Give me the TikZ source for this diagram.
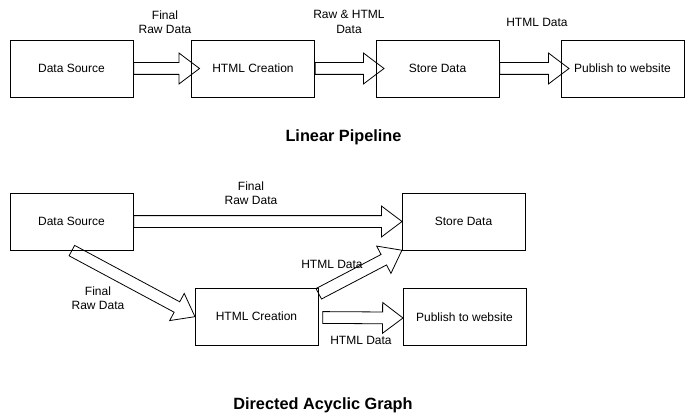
\documentclass[tikz,border=0pt]{standalone}
\usepackage{fontspec}
\setmainfont{Liberation Sans}
\usepackage{tikz}
\usetikzlibrary{shapes,arrows,calc}
\tikzstyle{block} = [rectangle, draw, line width=0.8pt, minimum width=123pt, minimum height=57pt, font=\fontsize{12}{14.4}\selectfont]
\tikzstyle{fat} = [single arrow, draw, line width=0.8pt, inner sep=5.5pt, minimum width=0pt, single arrow head extend=9.5pt, single arrow tip angle=74, anchor=tail]
\tikzstyle{lbl} = [align=center, font=\fontsize{12}{14.4}\selectfont]
\tikzstyle{title} = [font=\fontsize{16.3}{19}\selectfont\bfseries]
% hollow arrow from one point to another
\newcommand{\fatarrow}[2]{\path let \p1=($(#2)-(#1)$), \n1={veclen(\x1,\y1)}, \n2={atan2(\y1,\x1)} in node[fat, minimum height=\n1, rotate=\n2] at (#1) {};}

\begin{document}
\begin{tikzpicture}[x=1pt, y=-1pt]
      \useasboundingbox (0,0) rectangle (690,417);
      % linear pipeline
      \node [block] at (71.5, 68.5) (src) {Data Source};
      \node [block] at (253, 68.5) (html) {HTML Creation};
      \node [block] at (437.5, 68.5) (store) {Store Data};
      \node [block] at (622.5, 68.5) (pub) {Publish to website};
      \coordinate (t1) at ($(html.west)+(8,0)$);
      \coordinate (t2) at ($(store.west)+(8,0)$);
      \coordinate (t3) at ($(pub.west)+(8,0)$);
      \fatarrow{src.east}{t1}
      \fatarrow{html.east}{t2}
      \fatarrow{store.east}{t3}
      \node [lbl] at (165, 22) (l1) {Final\\Raw Data};
      \node [lbl] at (349, 22) (l2) {Raw \& HTML\\Data};
      \node [lbl] at (537, 22) (l3) {HTML Data};
      \node [title] at (343.5, 137) (title1) {Linear Pipeline};
      % directed acyclic graph
      \node [block] at (71.5, 221.5) (dsrc) {Data Source};
      \node [block] at (463.5, 221.5) (dstore) {Store Data};
      \node [block] at (256.5, 316.5) (dhtml) {HTML Creation};
      \node [block] at (464.5, 317) (dpub) {Publish to website};
      \coordinate (dh1) at ($(dhtml.east)+(4,1)$);
      \coordinate (dp1) at ($(dpub.west)+(0,1)$);
      \fatarrow{dsrc.east}{dstore.west}
      \fatarrow{dsrc.south}{dhtml.west}
      \fatarrow{dhtml.20}{dstore.south west}
      \fatarrow{dh1}{dp1}
      \node [lbl] at (251, 193) (m1) {Final\\Raw Data};
      \node [lbl] at (98, 298) (m2) {Final\\Raw Data};
      \node [lbl] at (332, 264) (m3) {HTML Data};
      \node [lbl] at (361, 340) (m4) {HTML Data};
      \node [title] at (323, 405) (title2) {Directed Acyclic Graph};
    \end{tikzpicture}
\end{document}
